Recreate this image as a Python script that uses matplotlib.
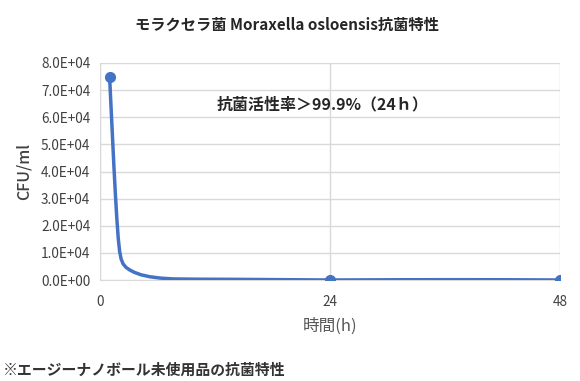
import matplotlib
matplotlib.use("Agg")
import matplotlib.pyplot as plt
from matplotlib.ticker import FuncFormatter

plt.rcParams['font.family'] = ['Noto Sans CJK JP', 'DejaVu Sans']

#  Measured points (markers)
hours = [1, 24, 48]
cfu = [75000, 0, 0]

#  Points
curve_hours = [1, 1.15, 1.3, 1.45, 1.6, 1.75, 1.9, 2.05, 2.2, 2.4, 2.7, 3.1, 3.6, 4.3, 5.2, 6.3, 7.6, 10, 14, 18, 24, 30, 36, 42, 48]
curve_cfu = [75000, 64000, 53000, 42000, 32000, 23000, 15500, 10500, 7800, 6000, 4700, 3700, 2800, 1900, 1200, 700, 400, 300, 250, 150, 0, 80, 120, 100, 0]

x_ticks = [0, 24, 48]
y_ticks = [0, 10000, 20000, 30000, 40000, 50000, 60000, 70000, 80000]

title = "モラクセラ菌 Moraxella osloensis抗菌特性"
note = "抗菌活性率＞99.9%（24ｈ）"
footnote = "※エージーナノボール未使用品の抗菌特性"

blue = "#4472C4"
grid = "#D9D9D9"

fig = plt.figure( figsize = ( 5.8, 3.81 ), dpi = 100 )
ax = fig.add_axes( [ 100 / 580, 1 - 280 / 381, 460 / 580, 217 / 381 ] )

ax.plot( curve_hours, curve_cfu, color = blue, lw = 2.5, solid_capstyle = "round", solid_joinstyle = "round", zorder = 3 )
ax.plot( hours, cfu, "o", color = blue, ms = 7, zorder = 4 )

ax.set_xlim( 0, 48 )
ax.set_ylim( 0, 80000 )
ax.set_xticks( x_ticks )
ax.set_yticks( y_ticks )
ax.yaxis.set_major_formatter( FuncFormatter( lambda v, p: "{:.1E}".format( v ) ) )
ax.grid( True, color = grid, lw = 1 )
ax.set_axisbelow( True )
for side in [ "top", "right" ]:
  ax.spines[ side ].set_visible( False )
for side in [ "left", "bottom" ]:
  ax.spines[ side ].set_color( grid )
ax.tick_params( length = 0, labelsize = 9.8, colors = "#404040", pad = 7 )
ax.tick_params( axis = "x", pad = 11 )

ax.set_ylabel( "CFU/ml", fontsize = 11.5, fontweight = "medium", color = "#404040", labelpad = 6 )
ax.set_xlabel( "時間(h)", fontsize = 12, color = "#595959", labelpad = 6 )

fig.text( 0.495, 0.935, title, ha = "center", va = "center", fontsize = 11, fontweight = "bold", color = "#262626" )
fig.text( 217 / 580, 1 - 104 / 381, note, ha = "left", va = "center", fontsize = 11.5, fontweight = "bold", color = "#262626" )
fig.text( 3 / 580, 1 - 370 / 381, footnote, ha = "left", va = "center", fontsize = 10.7, fontweight = "bold", color = "#333333" )

fig.savefig( "out.png", dpi = 100, facecolor = "white" )
